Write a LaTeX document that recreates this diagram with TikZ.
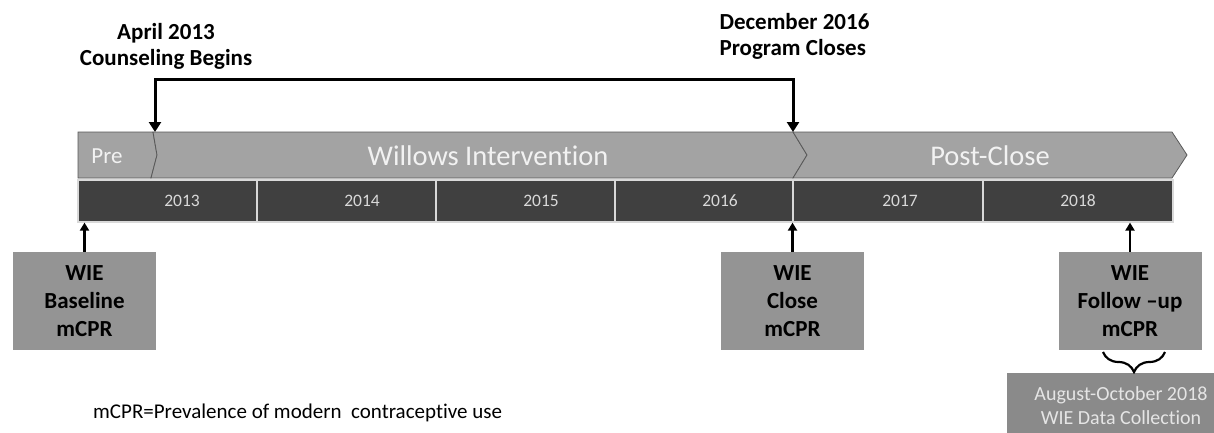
\documentclass[tikz,border=0pt]{standalone}
\usepackage{fontspec}
\setmainfont{Carlito}[Ligatures={TeX,NoCommon}]
\usepackage{xcolor}
\usepackage{tikz}
\usetikzlibrary{arrows.meta,positioning,decorations.pathreplacing}

\definecolor{bandgray}{HTML}{A3A3A3}
\definecolor{bargray}{HTML}{404040}
\definecolor{boxgray}{HTML}{949494}
\definecolor{datagray}{HTML}{8A8A8A}

\begin{document}
\begin{tikzpicture}[x=1pt, y=-1pt,
        band/.style={fill=bandgray, draw=black!65, line width=0.8pt},
        bandtext/.style={text=white!95!black, font=\fontsize{28.5}{31}\selectfont},
        yearcell/.style={rectangle, fill=bargray, draw=white!85!black, line width=1.2pt, minimum height=42pt, inner sep=0pt},
        yeartext/.style={text=white!85!black, font=\fontsize{17.5}{20}\selectfont},
        event/.style={align=center, font=\fontsize{23}{26}\bfseries\selectfont},
        surveybox/.style={rectangle, fill=boxgray, minimum width=143pt, minimum height=98pt, align=center, font=\fontsize{23}{28}\bfseries\selectfont},
        databox/.style={rectangle, fill=datagray, text=white!90!black, minimum width=228pt, minimum height=65pt, align=center, font=\fontsize{20}{24}\selectfont},
        arrow/.style={-{Triangle[width=9pt,length=8pt]}, line width=2.5pt},
        bigarrow/.style={{Triangle[width=12pt,length=10pt]}-{Triangle[width=12pt,length=10pt]}, line width=3pt}
    ]

    \fill[white] (0,0) rectangle (1214,433);
    \clip (0,0) rectangle (1214,433);

    % Phase band
    \draw[band] (78,132) -- (153,132) -- (157,155) -- (151,178) -- (78,178) -- cycle;
    \draw[band] (153,132) -- (793,132) -- (807,155) -- (793,178) -- (151,178) -- (157,155) -- cycle;
    \draw[band] (793,132) -- (1172,132) -- (1187,155) -- (1172,178) -- (793,178) -- (807,155) -- cycle;

    \node[bandtext, font=\fontsize{23}{26}\selectfont] (pre) at (107,156) {Pre};
    \node[bandtext] (wi) at (488,156) {Willows Intervention};
    \node[bandtext] (post) at (990,156) {Post-Close};

    % Year bar
    \node[yearcell, minimum width=179pt] (y2013) at (167.5,201) {};
    \node[yearcell, minimum width=179pt] (y2014) at (346.5,201) {};
    \node[yearcell, minimum width=179pt] (y2015) at (525.5,201) {};
    \node[yearcell, minimum width=178pt] (y2016) at (704,201) {};
    \node[yearcell, minimum width=190pt] (y2017) at (888,201) {};
    \node[yearcell, minimum width=190pt] (y2018) at (1078,201) {};

    \node[yeartext] at (182,201) {2013};
    \node[yeartext] at (362,201) {2014};
    \node[yeartext] at (541,201) {2015};
    \node[yeartext] at (720,201) {2016};
    \node[yeartext] at (900,201) {2017};
    \node[yeartext] at (1078,201) {2018};

    % Program start and close
    \node[event] (begins) at (166,46) {April 2013\\Counseling Begins};
    \node[event, anchor=west, align=left] (closes) at (716,36) {December 2016\\Program Closes};

    \coordinate (start) at (155,132);
    \coordinate (close) at (793,132);
    \coordinate (span) at (475,80);

    \draw[bigarrow] (start) |- (span) -| (close);

    % Survey rounds
    \node[surveybox] (base) at (84.5,301) {WIE\\Baseline\\mCPR};
    \node[surveybox] (closebox) at (792.5,301) {WIE\\Close\\mCPR};
    \node[surveybox] (follow) at (1130,301) {WIE\\Follow --up\\mCPR};

    \draw[arrow] (base.north) -- (base.north |- y2013.south);
    \draw[arrow] (closebox.north) -- (closebox.north |- y2016.south);
    \draw[arrow] (follow.north) -- (follow.north |- y2018.south);

    % Data collection window
    \node[databox] (data) at (1121,405.5) {August-October 2018\\WIE Data Collection};
    \draw[line width=2.2pt, decorate, decoration={brace, mirror, amplitude=20pt}] (1103,352) -- (1165,352);

    \node[anchor=west, inner sep=0pt, font=\fontsize{21}{24}\selectfont] (note) at (93,413) {mCPR=Prevalence of modern\ \ contraceptive use};

\end{tikzpicture}
\end{document}
